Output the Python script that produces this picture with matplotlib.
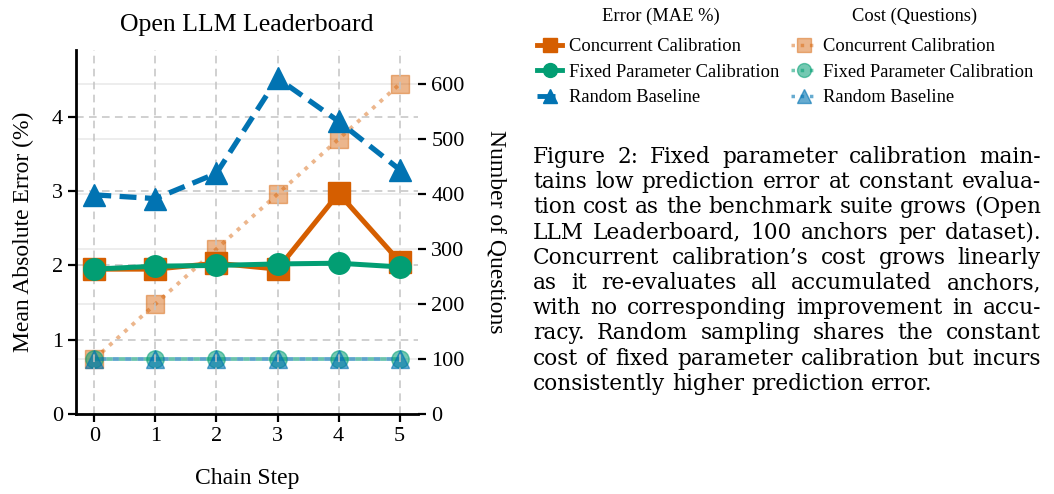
import matplotlib.pyplot as plt
from matplotlib.lines import Line2D

plt.rcParams['font.family'] = ['Liberation Serif', 'DejaVu Serif']

steps = [0, 1, 2, 3, 4, 5]
mae_concurrent = [1.95, 1.95, 2.03, 1.95, 2.97, 2.05]
mae_fixed = [1.95, 1.99, 2.00, 2.02, 2.03, 1.98]
mae_random = [2.95, 2.90, 3.24, 4.52, 3.94, 3.29]
cost_concurrent = [100, 200, 300, 400, 500, 600]
cost_fixed = [100, 100, 100, 100, 100, 100]
cost_random = [100, 100, 100, 100, 100, 100]

c_orange = '#d55e00'
c_green = '#029e73'
c_blue = '#0173b2'

caption = [
    "Figure 2: Fixed parameter calibration main-",
    "tains low prediction error at constant evalua-",
    "tion cost as the benchmark suite grows (Open",
    "LLM Leaderboard, 100 anchors per dataset).",
    "Concurrent calibration\u2019s cost grows linearly",
    "as it re-evaluates all accumulated anchors,",
    "with no corresponding improvement in accu-",
    "racy. Random sampling shares the constant",
    "cost of fixed parameter calibration but incurs",
    "consistently higher prediction error.",
]

W, H = 1054, 494
fig = plt.figure(figsize=(W / 100, H / 100), dpi=100)
ax = fig.add_axes([76 / W, 80 / H, 342 / W, 364 / H])
ax2 = ax.twinx()
ax.set_zorder(ax2.get_zorder() + 1)
ax.patch.set_visible(False)

# error lines
ax.plot(steps, mae_concurrent, '-s', color=c_orange, lw=3.6, ms=15.5, zorder=5)
ax.plot(steps, mae_fixed, '-o', color=c_green, lw=3.6, ms=15.5, zorder=6)
ax.plot(steps, mae_random, '--^', color=c_blue, lw=3.8, ms=15.5,
        dashes=(3.2, 1.6), zorder=5)

# cost lines
ax2.plot(steps, cost_concurrent, color=c_orange, alpha=0.45, lw=2.8,
         ls=(0, (1, 1.6)), marker='s', ms=12.5)
ax2.plot(steps, cost_fixed, color=c_green, alpha=0.55, lw=2.8,
         ls=(0, (1.6, 1.6)), marker='o', ms=12.5)
ax2.plot(steps, cost_random, color=c_blue, alpha=0.6, lw=2.8,
         ls=(1.6, (1.6, 1.6)), marker='^', ms=12.5)

ax.set_xlim(-0.3, 5.3)
ax.set_ylim(0, 4.9)
ax2.set_ylim(0, 662)
ax.set_xticks(steps)
ax.set_yticks([0, 1, 2, 3, 4])
ax2.set_yticks([0, 100, 200, 300, 400, 500, 600])

ax.grid(True, color='#c4c4c4', lw=1.1, ls=(0, (5, 3.5)))
ax2.grid(True, axis='y', ls='-', color='#e8e8e8', lw=1.1)
ax.set_axisbelow(True)

for a in (ax, ax2):
    a.spines['top'].set_visible(False)
    a.spines['right'].set_visible(False)
ax2.spines['left'].set_visible(False)
ax2.spines['bottom'].set_visible(False)
ax.spines['left'].set_linewidth(2)
ax.spines['bottom'].set_linewidth(2)

ax.tick_params(labelsize=16, width=1.6, length=6)
ax2.tick_params(labelsize=16, width=1.6, length=6)

ax.set_xlabel('Chain Step', fontsize=17, labelpad=16)
ax.set_ylabel('Mean Absolute Error (%)', fontsize=17, labelpad=13)
ax2.set_ylabel('Number of Questions', fontsize=17, rotation=270, labelpad=30)
ax.set_title('Open LLM Leaderboard', fontsize=18.5, pad=14)

err_handles = [
    Line2D([], [], color=c_orange, ls='-', marker='s', lw=3.5, ms=10),
    Line2D([], [], color=c_green, ls='-', marker='o', lw=3.5, ms=10),
    Line2D([], [], color=c_blue, ls='--', marker='^', lw=3.5, ms=10),
]
cost_handles = [
    Line2D([], [], color=c_orange, ls=':', marker='s', lw=2.5, ms=10, alpha=0.45),
    Line2D([], [], color=c_green, ls=':', marker='o', lw=2.5, ms=10, alpha=0.55),
    Line2D([], [], color=c_blue, ls=':', marker='^', lw=2.5, ms=10, alpha=0.6),
]
names = ['Concurrent Calibration', 'Fixed Parameter Calibration', 'Random Baseline']
leg_kw = dict(loc='upper left', frameon=False, fontsize=13.3,
              handlelength=1.35, handletextpad=0.35,
              labelspacing=0.45, borderaxespad=0)
fig.legend(err_handles, names, bbox_to_anchor=(530 / W, 1 - 31 / H), **leg_kw)
fig.legend(cost_handles, names, bbox_to_anchor=(784 / W, 1 - 31 / H), **leg_kw)
fig.text(661 / W, 1 - 16 / H, 'Error (MAE %)', fontsize=13.3, ha='center', va='center')
fig.text(915 / W, 1 - 16 / H, 'Cost (Questions)', fontsize=13.3, ha='center', va='center')

# justified caption
x0, x1 = 533, 1041
cap_font = ['DejaVu Serif']
renderer = fig.canvas.get_renderer()


def text_w(s, size):
    t = fig.text(0, 0, s, fontsize=size, family=cap_font)
    w = t.get_window_extent(renderer).width
    t.remove()
    return w


widest = max(text_w(s, 10) for s in caption[:-1])
fs = 10 * (x1 - x0) / widest
space_w = text_w('a a', fs) - text_w('aa', fs)
for i, line in enumerate(caption):
    y = (H - 157 - i * 25.2) / H
    words = line.split(' ')
    objs = [fig.text(0, y, w, fontsize=fs, family=cap_font, va='center', ha='left')
            for w in words]
    widths = [t.get_window_extent(renderer).width for t in objs]
    if i < len(caption) - 1 and len(words) > 1:
        gap = (x1 - x0 - sum(widths)) / (len(words) - 1)
    else:
        gap = space_w
    x = x0
    for t, w in zip(objs, widths):
        t.set_x(x / W)
        x += w + gap

fig.savefig('out.png', dpi=100)
